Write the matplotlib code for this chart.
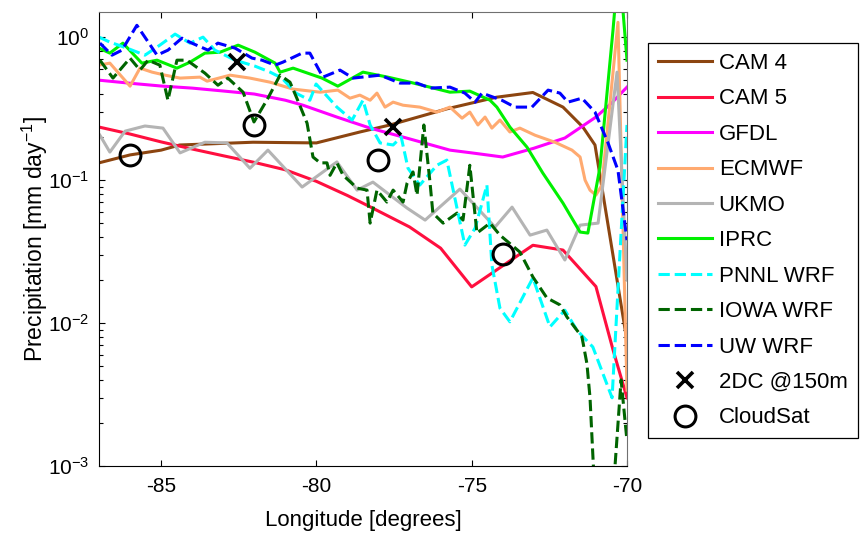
import matplotlib
matplotlib.use("Agg")
import matplotlib.pyplot as plt
from matplotlib.ticker import FixedLocator, LogLocator, NullFormatter


# ================================== ESTILO ==================================

plt.rcParams['font.family'] = ['Liberation Sans', 'DejaVu Sans']
plt.rcParams['mathtext.fontset'] = 'custom'
plt.rcParams['mathtext.rm'] = 'Liberation Sans'
plt.rcParams['mathtext.it'] = 'Liberation Sans:italic'
plt.rcParams['mathtext.bf'] = 'Liberation Sans:bold'
plt.rcParams['axes.unicode_minus'] = False


# ================================== DADOS ==================================

cam4_lon = [-87.0, -86.0, -85.0, -84.4, -82.04, -80.0, -78.6, -77.63, -75.8, -74.2, -73.03, -72.06, -71.42, -71.03, -70.0]
cam4_val = [0.132, 0.15, 0.162, 0.176, 0.184, 0.182, 0.217, 0.243, 0.315, 0.38, 0.41, 0.324, 0.235, 0.176, 0.0075]

cam5_lon = [-87.0, -86.0, -85.0, -84.0, -83.0, -82.0, -81.0, -80.0, -79.0, -78.27, -77.0, -76.0, -75.0,
            -73.03, -72.06, -71.0, -70.45, -70.0]
cam5_val = [0.235, 0.21, 0.185, 0.165, 0.148, 0.133, 0.118, 0.098, 0.078, 0.065, 0.047, 0.0334, 0.0179,
            0.035, 0.0324, 0.018, 0.0065, 0.003]

gfdl_lon = [-87.0, -86.0, -85.0, -84.0, -83.0, -82.0, -81.0, -80.43, -79.34, -78.27, -77.21, -75.7, -75.0,
            -74.0, -73.0, -72.0, -71.0, -70.5, -70.0]
gfdl_val = [0.5, 0.476, 0.455, 0.44, 0.42, 0.40, 0.362, 0.334, 0.276, 0.231, 0.2, 0.162, 0.155,
            0.145, 0.167, 0.197, 0.276, 0.345, 0.447]

ecmwf_lon = [-87.0, -86.65, -86.0, -85.68, -85.29, -84.87, -84.39, -83.75, -83.52, -82.78, -82.14, -81.49,
             -80.75, -79.88, -79.31, -78.92, -78.6, -78.27, -78.05, -77.79, -77.53, -77.21, -76.67, -76.12,
             -75.7, -75.31, -75.06, -74.8, -74.57, -74.35, -74.09, -73.77, -73.45, -72.96, -72.32, -71.77,
             -71.51, -71.35, -71.19, -71.0, -70.81, -70.29, -70.0]
ecmwf_val = [0.637, 0.658, 0.454, 0.607, 0.569, 0.542, 0.517, 0.525, 0.492, 0.542, 0.517, 0.484,
             0.433, 0.412, 0.426, 0.374, 0.393, 0.362, 0.406, 0.324, 0.351, 0.334, 0.324, 0.299,
             0.324, 0.271, 0.299, 0.243, 0.276, 0.231, 0.263, 0.217, 0.231, 0.206, 0.184, 0.162,
             0.145, 0.1, 0.085, 0.0785, 0.092, 1.27, 0.0034]

ukmo_lon = [-86.97, -86.65, -86.16, -85.52, -84.94, -84.39, -83.59, -82.88, -82.14, -81.56, -80.46, -79.34,
            -78.69, -78.18, -77.08, -76.5, -75.38, -74.25, -73.7, -73.12, -72.58, -72.0, -71.51, -70.93,
            -70.32, -70.0]
ukmo_val = [0.206, 0.157, 0.22, 0.239, 0.231, 0.155, 0.184, 0.182, 0.121, 0.162, 0.0894, 0.134,
            0.0851, 0.0968, 0.0637, 0.0525, 0.0865, 0.0469, 0.0647, 0.0412, 0.0447, 0.0276, 0.0484, 0.05,
            0.569, 0.02]

iprc_lon = [-87.0, -86.65, -86.23, -85.62, -85.13, -84.49, -84.07, -83.59, -83.1, -82.52, -81.98, -81.33,
            -81.17, -80.75, -79.82, -79.31, -78.5, -77.7, -76.99, -75.7, -75.06, -74.41, -74.19, -73.77,
            -73.22, -72.71, -72.06, -71.51, -71.26, -70.87, -70.45, -70.26, -70.0]
iprc_val = [0.838, 0.773, 0.908, 0.658, 0.69, 0.607, 0.668, 0.773, 0.785, 0.879, 0.785, 0.658,
            0.569, 0.607, 0.517, 0.454, 0.569, 0.525, 0.484, 0.412, 0.419, 0.362, 0.324, 0.235,
            0.17, 0.112, 0.069, 0.0433, 0.0426, 0.123, 1.12, 3.45, 0.69]

pnnl_lon = [-87.0, -86.65, -86.1, -85.52, -85.04, -84.55, -84.07, -83.65, -83.27, -82.62, -81.98, -81.49,
            -81.11, -80.66, -80.21, -80.01, -79.34, -78.85, -78.5, -78.27, -77.95, -77.53, -77.27, -77.05,
            -76.67, -76.12, -75.8, -75.44, -75.22, -74.89, -74.51, -74.35, -74.09, -73.77, -73.03, -72.48,
            -72.0, -71.61, -71.1, -70.48, -70.0]
pnnl_val = [1.0, 0.923, 0.838, 0.748, 0.879, 1.05, 0.908, 1.0, 0.811, 0.69, 0.627, 0.569,
            0.517, 0.406, 0.362, 0.47, 0.324, 0.263, 0.362, 0.243, 0.182, 0.176, 0.2, 0.121,
            0.0923, 0.127, 0.138, 0.0588, 0.0351, 0.0461, 0.0923, 0.0255, 0.0127, 0.0102, 0.0207, 0.0094,
            0.0123, 0.0089, 0.0068, 0.003, 0.243]

iowa_lon = [-86.97, -86.55, -86.0, -85.68, -85.42, -85.04, -84.78, -84.49, -84.17, -83.59, -83.17, -82.85,
            -82.36, -82.01, -81.56, -81.17, -80.85, -80.63, -80.3, -80.11, -79.88, -79.66, -79.56, -79.34,
            -79.14, -78.69, -78.37, -78.27, -78.05, -77.73, -77.53, -77.21, -77.08, -76.89, -76.76, -76.54,
            -76.34, -76.25, -75.92, -75.47, -75.28, -75.06, -74.83, -74.41, -74.09, -73.45, -73.03, -72.58,
            -72.16, -71.93, -71.45, -71.29, -71.19, -71.06, -70.71, -70.19, -70.0]
iowa_val = [0.69, 0.517, 0.713, 0.588, 0.69, 0.637, 0.362, 0.69, 0.69, 0.56, 0.461, 0.517,
            0.412, 0.255, 0.374, 0.542, 0.484, 0.374, 0.25, 0.145, 0.132, 0.132, 0.108, 0.132,
            0.108, 0.0879, 0.0851, 0.05, 0.0851, 0.0702, 0.0851, 0.0702, 0.0953, 0.114, 0.0785, 0.243,
            0.0953, 0.0588, 0.05, 0.0588, 0.0525, 0.127, 0.0426, 0.05, 0.0412, 0.0314, 0.021, 0.015,
            0.0134, 0.011, 0.008, 0.0052, 0.003, 0.0008, 0.0001, 0.004, 0.0015]

uw_lon = [-86.97, -86.58, -86.26, -85.78, -85.13, -84.78, -84.33, -84.01, -83.49, -83.17, -82.62, -82.07,
          -81.75, -81.33, -81.08, -80.46, -80.21, -79.79, -79.24, -78.82, -77.95, -77.31, -76.76, -76.34,
          -75.7, -75.22, -74.89, -74.67, -74.03, -73.61, -73.06, -72.54, -72.16, -71.9, -71.45, -71.03,
          -70.61, -70.29, -70.0]
uw_val = [0.908, 0.748, 0.811, 1.21, 0.748, 0.811, 0.984, 0.908, 0.811, 0.908, 0.838, 0.713,
          0.69, 0.637, 0.668, 0.773, 0.773, 0.525, 0.588, 0.517, 0.542, 0.477, 0.477, 0.44,
          0.447, 0.406, 0.351, 0.406, 0.362, 0.324, 0.324, 0.426, 0.406, 0.351, 0.374, 0.299,
          0.182, 0.117, 0.038]

dc2_lon = [-82.56, -77.53]
dc2_val = [0.668, 0.235]

cloudsat_lon = [-86.0, -82.01, -78.02, -73.99]
cloudsat_val = [0.15, 0.243, 0.138, 0.0304]


# ================================== FIGURA ==================================

fig = plt.figure(figsize=(8.66, 5.44), dpi=100)
ax = fig.add_axes([0.1143, 0.1434, 0.6097, 0.8346])

# Linhas dos modelos (nome, x, y, cor, estilo)
series = [
    ('CAM 4', cam4_lon, cam4_val, '#8c4510', '-'),
    ('CAM 5', cam5_lon, cam5_val, '#ff0f3f', '-'),
    ('GFDL', gfdl_lon, gfdl_val, '#ff00ff', '-'),
    ('ECMWF', ecmwf_lon, ecmwf_val, '#ffaa70', '-'),
    ('UKMO', ukmo_lon, ukmo_val, '#b4b4b4', '-'),
    ('IPRC', iprc_lon, iprc_val, '#00f000', '-'),
    ('PNNL WRF', pnnl_lon, pnnl_val, '#00ffff', '--'),
    ('IOWA WRF', iowa_lon, iowa_val, '#006400', '--'),
    ('UW WRF', uw_lon, uw_val, '#0000ff', '--'),
]

for nome, x, y, cor, estilo in series:
    ax.plot(x, y, color=cor, linestyle=estilo, linewidth=2.2, label=nome)

ax.plot(dc2_lon, dc2_val, linestyle='none', marker='x', markersize=12,
        markeredgewidth=2.6, color='black', label='2DC @150m')
ax.plot(cloudsat_lon, cloudsat_val, linestyle='none', marker='o', markersize=15,
        markeredgewidth=2.2, markerfacecolor='none', markeredgecolor='black', label='CloudSat')

# Eixos
ax.set_yscale('log')
ax.set_xlim(-87, -70)
ax.set_ylim(1e-3, 1.5)

ax.xaxis.set_major_locator(FixedLocator([-85, -80, -75, -70]))
ax.yaxis.set_major_locator(FixedLocator([1e-3, 1e-2, 1e-1, 1e0]))
ax.set_yticklabels(['$10^{-3}$', '$10^{-2}$', '$10^{-1}$', '$10^{0}$'])
ax.yaxis.set_minor_locator(LogLocator(base=10, subs=range(2, 10)))
ax.yaxis.set_minor_formatter(NullFormatter())

ax.tick_params(which='both', direction='in', top=True, right=True, width=0.8)
ax.tick_params(which='major', length=4.5, labelsize=15)
ax.tick_params(which='minor', length=3)
ax.tick_params(axis='x', pad=8)
ax.tick_params(axis='y', pad=7)

for lado in ['top', 'right']:
    ax.spines[lado].set_color('#707070')

ax.set_xlabel('Longitude [degrees]', fontsize=16, labelpad=10)
ax.set_ylabel('Precipitation [mm day$^{-1}$]', fontsize=16.5)
ax.yaxis.set_label_coords(-0.092, 0.5)

# Legenda fora dos eixos, à direita
leg = ax.legend(loc='upper left', bbox_to_anchor=(648 / 866, 1 - 43 / 544),
                bbox_transform=fig.transFigure, borderaxespad=0, fontsize=16,
                handlelength=2.43, handletextpad=0.3, labelspacing=0.65,
                borderpad=0.45, numpoints=1, fancybox=False, framealpha=1)
leg.get_frame().set_edgecolor('black')
leg.get_frame().set_linewidth(0.9)

fig.savefig('out.png', dpi=100)
